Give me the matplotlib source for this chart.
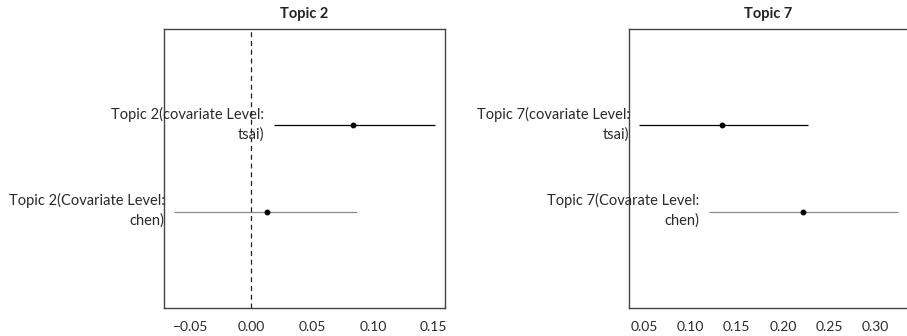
import matplotlib
matplotlib.use("Agg")
import matplotlib.pyplot as plt

plt.rcParams['font.family'] = ['Lato', 'DejaVu Sans']

# point estimates and 95% intervals
topics = ["Topic 2", "Topic 7"]
levels = ["tsai", "chen"]
labels = {
    "Topic 2": ["Topic 2(covariate Level:\ntsai)", "Topic 2(Covariate Level:\nchen)"],
    "Topic 7": ["Topic 7(covariate Level:\ntsai)", "Topic 7(Covarate Level:\nchen)"],
}
est = {"Topic 2": [0.0836, 0.0126], "Topic 7": [0.1339, 0.2214]}
lower = {"Topic 2": [0.0183, -0.0632], "Topic 7": [0.0446, 0.1195]}
upper = {"Topic 2": [0.1506, 0.0872], "Topic 7": [0.2268, 0.3240]}
ticks = {"Topic 2": [-0.05, 0.00, 0.05, 0.10, 0.15],
         "Topic 7": [0.05, 0.10, 0.15, 0.20, 0.25, 0.30]}
line_colors = ["black", "#8a8a8a"]

fig = plt.figure(figsize=(9.07, 3.36), dpi=100)
axes = [fig.add_axes([0.1808, 0.0833, 0.3098, 0.8304]),
        fig.add_axes([0.6935, 0.0833, 0.3076, 0.8304])]

for ax, t in zip(axes, topics):
    ys = [2, 1]
    for y, e, lo, hi, c, lab in zip(ys, est[t], lower[t], upper[t], line_colors, labels[t]):
        ax.plot([lo, hi], [y, y], color=c, lw=0.9, solid_capstyle='butt')
        ax.plot(e, y, 'o', color='black', ms=3.2)
        ax.annotate(lab, (lo, y), xytext=(-7, 1), textcoords='offset points',
                    ha='right', va='center', fontsize=10.5, color='#2a2a2a',
                    linespacing=1.5, annotation_clip=False)
    if t == "Topic 2":
        ax.axvline(0, color='#222222', lw=0.9, ls=(0, (4, 3)))
    lo_all, hi_all = min(lower[t]), max(upper[t])
    pad = 0.04 * (hi_all - lo_all)
    ax.set_xlim(lo_all - pad, hi_all + pad)
    ax.set_ylim(-0.12, 3.12)
    ax.set_yticks([])
    ax.set_xticks(ticks[t])
    ax.set_xticklabels([f"{v:.2f}".replace("-", "\u2212") for v in ticks[t]])
    ax.tick_params(axis='x', length=0, pad=9, labelsize=10, colors='#2a2a2a')
    for s in ax.spines.values():
        s.set_color('#444444')
        s.set_linewidth(1.0)
    ax.set_title(t, fontsize=10.5, fontweight='bold', pad=8, color='#222222')

fig.savefig("out.png", dpi=100)
